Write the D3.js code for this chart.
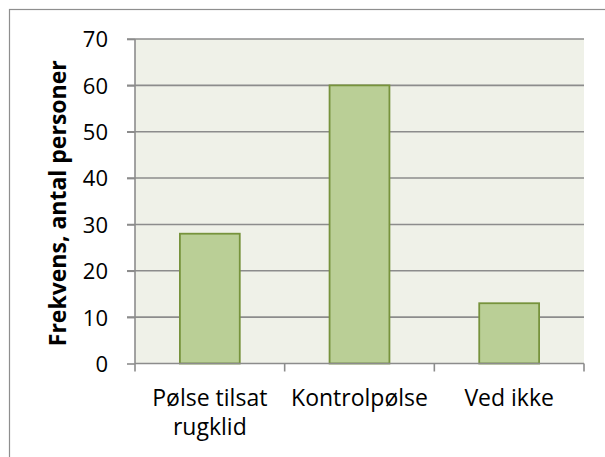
<!DOCTYPE html>
<html>
<head>
<meta charset="utf-8">
<script src="https://cdn.jsdelivr.net/npm/d3@7"></script>
<style>
  body { margin: 0; background: #fff; }
  text { font-family: "Open Sans", "Noto Sans", sans-serif; fill: #000; }
</style>
</head>
<body>
<svg id="chart"></svg>
<script>
const categories = ["Pølse tilsat\nrugklid", "Kontrolpølse", "Ved ikke"];
const values = [28, 60, 13];
const yTicks = [0, 10, 20, 30, 40, 50, 60, 70];
const yTitle = "Frekvens, antal personer";

const W = 605, H = 457;
const svg = d3.select("#chart").attr("width", W).attr("height", H);

// outer chart frame
svg.append("rect")
  .attr("x", 9.5).attr("y", 9.5)
  .attr("width", W + 10).attr("height", H + 10)
  .style("fill", "#fff").style("stroke", "#8e8e8e").style("stroke-width", 1.2);

const plotLeft = 135, plotRight = 584, plotTop = 39, plotBottom = 363.5;

const x = d3.scaleBand().domain(categories).range([plotLeft, plotRight])
  .paddingInner(0.6).paddingOuter(0.3);
const y = d3.scaleLinear().domain([0, 70]).range([plotBottom, plotTop]);

// plot area
svg.append("rect")
  .attr("x", plotLeft).attr("y", plotTop)
  .attr("width", plotRight - plotLeft).attr("height", plotBottom - plotTop)
  .style("fill", "#eff1e8");

// gridlines
svg.append("g").selectAll("line")
  .data(yTicks.filter(d => d > 0))
  .enter().append("line")
  .attr("x1", plotLeft - 8).attr("x2", plotRight)
  .attr("y1", d => y(d)).attr("y2", d => y(d))
  .style("stroke", "#8c8c8c").style("stroke-width", 1.6);

// bars
svg.append("g").selectAll("rect")
  .data(values)
  .enter().append("rect")
  .attr("x", (d, i) => x(categories[i]))
  .attr("y", d => y(d))
  .attr("width", x.bandwidth())
  .attr("height", d => y(0) - y(d))
  .style("fill", "#bacf96")
  .style("stroke", "#77933c")
  .style("stroke-width", 1.8);

// y axis
const yAxis = svg.append("g")
  .attr("transform", `translate(${plotLeft},0)`)
  .call(d3.axisLeft(y).tickValues(yTicks).tickSize(8).tickPadding(19));
yAxis.selectAll("line").style("stroke", "#8c8c8c").style("stroke-width", 1.6);
yAxis.select(".domain").style("stroke", "#8c8c8c").style("stroke-width", 1.6)
  .attr("d", `M0,${plotTop}V${plotBottom}`);
yAxis.selectAll("text").style("font-size", "22px").attr("dy", "0.36em");

// x axis: ticks on category boundaries
const bounds = d3.range(categories.length + 1)
  .map(i => plotLeft + i * (plotRight - plotLeft) / categories.length);
const xg = svg.append("g");
xg.append("line")
  .attr("x1", plotLeft).attr("x2", plotRight)
  .attr("y1", plotBottom).attr("y2", plotBottom)
  .style("stroke", "#8c8c8c").style("stroke-width", 1.6);
xg.selectAll("line.tick").data(bounds).enter().append("line")
  .attr("class", "tick")
  .attr("x1", d => d).attr("x2", d => d)
  .attr("y1", plotBottom).attr("y2", plotBottom + 8)
  .style("stroke", "#8c8c8c").style("stroke-width", 1.6);

const labels = xg.selectAll("text.cat").data(categories).enter().append("text")
  .attr("class", "cat")
  .attr("text-anchor", "middle")
  .style("font-size", "23px")
  .attr("transform", d => `translate(${x(d) + x.bandwidth() / 2},406)`);
labels.selectAll("tspan")
  .data(d => d.split("\n"))
  .enter().append("tspan")
  .attr("x", 0)
  .attr("y", (d, i) => i * 29)
  .text(d => d);

// y title
svg.append("text")
  .attr("transform", `translate(66,${(plotTop + plotBottom) / 2 + 2}) rotate(-90)`)
  .attr("text-anchor", "middle")
  .style("font-size", "23px")
  .style("font-weight", "bold")
  .text(yTitle);
</script>
</body>
</html>
